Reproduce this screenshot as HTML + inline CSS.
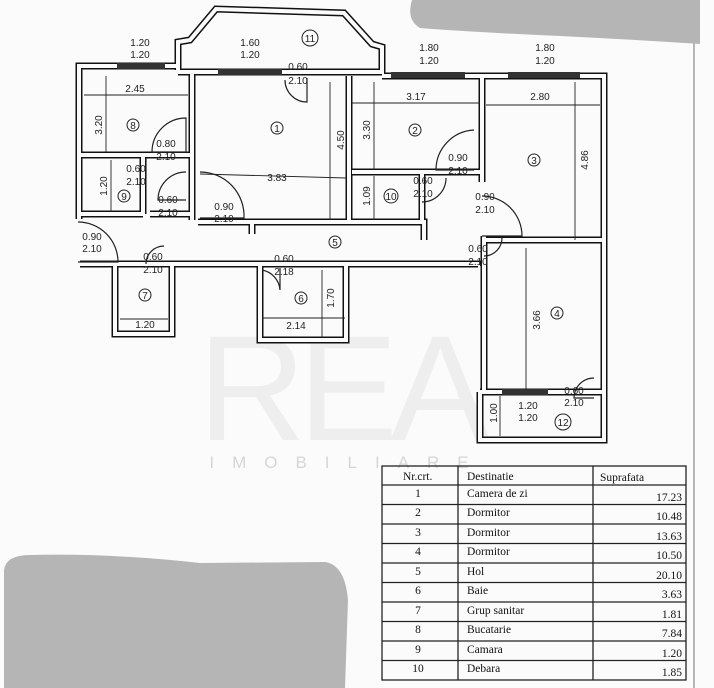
<!DOCTYPE html>
<html><head><meta charset="utf-8"><style>
html,body{margin:0;padding:0;background:#fbfbfb;}
svg{display:block;}
.t{font-family:"Liberation Sans",sans-serif;font-size:10px;fill:#222;text-anchor:middle;}
.s{font-family:"Liberation Serif",serif;font-size:11.5px;fill:#111;}
</style></head><body>
<svg width="714" height="688" viewBox="0 0 714 688" xmlns="http://www.w3.org/2000/svg">
<rect width="714" height="688" fill="#fbfbfb"/>
<!-- watermark -->
<text x="340" y="440" font-family="Liberation Sans,sans-serif" font-size="150" fill="#eeeeee" text-anchor="middle" letter-spacing="-8">REA</text>
<text x="348" y="468" font-family="Liberation Sans,sans-serif" font-size="17" fill="#d6d6d6" text-anchor="middle" letter-spacing="18">IMOBILIARE</text>
<line x1="694" y1="0" x2="694" y2="688" stroke="#888" stroke-width="1.2"/>
<!-- blobs -->
<path d="M412,0 H700 V44 Q640,40 560,36 Q470,32 420,28 Q406,20 412,0Z" fill="#b5b5b5"/>
<path d="M4,570 Q6,555 30,555 Q110,553 200,563 L325,562 Q345,565 348,600 L345,688 H4Z" fill="#b5b5b5"/>

<defs>
<path id="w" d="M79,219 V66 H178 M178,70 V42 L190,40 L216,9 L344,13 L372,44 L382,47 V74 M178,72 H382 M382,76 H604 V392 M192,74 V220 M80,155 H192 M143,155 V214 M80,214 H143 M150,214 H192 M198,222 H252 V234 M252,222 H424 V240 M349,76 V222 M352,172 H482 M422,172 V222 M482,76 V182 M484,240 H604 M484,236 V392 M80,264 H478 V266 M115,266 V334 H172 V266 M260,266 V340 H346 V266 M480,392 H604 M480,392 V440 H604 V392"/>
</defs>
<use href="#w" fill="none" stroke="#111" stroke-width="7"/>
<use href="#w" fill="none" stroke="#fbfbfb" stroke-width="4"/>
<!-- windows -->
<g fill="#333">
<rect x="117" y="63" width="48" height="6"/>
<rect x="218" y="69" width="64" height="6"/>
<rect x="391" y="72" width="74" height="6"/>
<rect x="508" y="72" width="72" height="6"/>
<rect x="502" y="389" width="46" height="6"/>
</g>
<!-- door arcs -->
<g fill="none" stroke="#222" stroke-width="1.2">
<path d="M307,78 V102 A22,22 0 0 1 285,80"/>
<path d="M186,118 A34,34 0 0 0 152,152 H186Z"/>
<path d="M186,172 A28,28 0 0 0 158,200 H186"/>
<path d="M146,158 V178"/>
<path d="M200,172 A44,44 0 0 1 244,218 H200"/>
<path d="M474,130 A40,40 0 0 0 436,170 H474"/>
<path d="M422,202 A24,24 0 0 0 446,178"/>
<path d="M482,196 A40,40 0 0 1 522,236 H482"/>
<path d="M484,256 A18,18 0 0 0 502,238"/>
<path d="M78,222 A40,40 0 0 1 118,262 H78"/>
<path d="M164,246 A18,18 0 0 0 146,264"/>
<path d="M280,268 V290 A22,22 0 0 0 262,270"/>
<path d="M594,378 A20,20 0 0 0 574,398 H594"/>
</g>
<!-- dimension lines -->
<g stroke="#222" stroke-width="0.9" fill="none">
<line x1="84" y1="95" x2="188" y2="95"/>
<line x1="106" y1="76" x2="106" y2="152"/>
<line x1="111" y1="160" x2="111" y2="212"/>
<line x1="330" y1="82" x2="330" y2="220"/>
<line x1="200" y1="174" x2="346" y2="178"/>
<line x1="352" y1="103" x2="480" y2="103"/>
<line x1="374" y1="82" x2="374" y2="170"/>
<line x1="374" y1="176" x2="374" y2="220"/>
<line x1="486" y1="105" x2="600" y2="105"/>
<line x1="575" y1="82" x2="575" y2="240"/>
<line x1="120" y1="319" x2="168" y2="319"/>
<line x1="262" y1="318" x2="345" y2="318"/>
<line x1="322" y1="270" x2="322" y2="338"/>
<line x1="526" y1="248" x2="526" y2="390"/>
<line x1="500" y1="396" x2="500" y2="436"/>
</g>
<!-- fraction labels -->
<g class="t">
<text x="140" y="46">1.20</text><text x="140" y="58">1.20</text>
<text x="250" y="46">1.60</text><text x="250" y="58">1.20</text>
<text x="429" y="51">1.80</text><text x="429" y="64">1.20</text>
<text x="545" y="51">1.80</text><text x="545" y="64">1.20</text>
<text x="298" y="70">0.60</text><text x="298" y="84">2.10</text>
<text x="166" y="147">0.80</text><text x="166" y="160">2.10</text>
<text x="136" y="172">0.60</text><text x="136" y="185">2.10</text>
<text x="168" y="203">0.60</text><text x="168" y="216">2.10</text>
<text x="224" y="210">0.90</text><text x="224" y="222">2.10</text>
<text x="92" y="240">0.90</text><text x="92" y="252">2.10</text>
<text x="153" y="260">0.60</text><text x="153" y="273">2.10</text>
<text x="458" y="161">0.90</text><text x="458" y="174">2.10</text>
<text x="423" y="184">0.60</text><text x="423" y="197">2.10</text>
<text x="485" y="200">0.90</text><text x="485" y="213">2.10</text>
<text x="478" y="252">0.60</text><text x="478" y="265">2.10</text>
<text x="284" y="262">0.60</text><text x="284" y="275">2.18</text>
<text x="574" y="394">0.60</text><text x="574" y="406">2.10</text>
<text x="528" y="409">1.20</text><text x="528" y="421">1.20</text>
<text x="135" y="92">2.45</text>
<text x="277" y="181">3.83</text>
<text x="416" y="100">3.17</text>
<text x="540" y="100">2.80</text>
<text x="145" y="328">1.20</text>
<text x="296" y="329">2.14</text>
<text transform="translate(102,125) rotate(-90)">3.20</text>
<text transform="translate(107,186) rotate(-90)">1.20</text>
<text transform="translate(344,140) rotate(-90)">4.50</text>
<text transform="translate(370,130) rotate(-90)">3.30</text>
<text transform="translate(370,196) rotate(-90)">1.09</text>
<text transform="translate(588,160) rotate(-90)">4.86</text>
<text transform="translate(334,298) rotate(-90)">1.70</text>
<text transform="translate(540,320) rotate(-90)">3.66</text>
<text transform="translate(497,413) rotate(-90)">1.00</text>
</g>
<!-- room numbers -->
<g fill="none" stroke="#222" stroke-width="1">
<circle cx="310" cy="38" r="8"/><circle cx="133" cy="125" r="6"/><circle cx="124" cy="196" r="6"/>
<circle cx="277" cy="128" r="6"/><circle cx="415" cy="130" r="6"/><circle cx="391" cy="196" r="7"/>
<circle cx="534" cy="160" r="6"/><circle cx="335" cy="242" r="6"/><circle cx="301" cy="298" r="6"/>
<circle cx="145" cy="295" r="6"/><circle cx="557" cy="313" r="6"/><circle cx="563" cy="422" r="8"/>
</g>
<g class="t" font-size="9">
<text x="310" y="42">11</text><text x="133" y="129">8</text><text x="124" y="200">9</text>
<text x="277" y="132">1</text><text x="415" y="134">2</text><text x="391" y="200">10</text>
<text x="534" y="164">3</text><text x="335" y="246">5</text><text x="301" y="302">6</text>
<text x="145" y="299">7</text><text x="557" y="317">4</text><text x="563" y="426">12</text>
</g>
<!-- table -->
<g stroke="#222" stroke-width="1.3" fill="none">
<rect x="382" y="466" width="304" height="214"/>
<line x1="458" y1="466" x2="458" y2="680"/>
<line x1="593" y1="466" x2="593" y2="680"/>
<line x1="382" y1="485" x2="686" y2="485"/>
<line x1="382" y1="504.5" x2="686" y2="504.5"/>
<line x1="382" y1="524" x2="686" y2="524"/>
<line x1="382" y1="543.5" x2="686" y2="543.5"/>
<line x1="382" y1="563" x2="686" y2="563"/>
<line x1="382" y1="582.5" x2="686" y2="582.5"/>
<line x1="382" y1="602" x2="686" y2="602"/>
<line x1="382" y1="621.5" x2="686" y2="621.5"/>
<line x1="382" y1="641" x2="686" y2="641"/>
<line x1="382" y1="660.5" x2="686" y2="660.5"/>
</g>
<g class="s">
<text x="403" y="480">Nr.crt.</text><text x="467" y="480">Destinatie</text><text x="600" y="481">Suprafata</text>
<g text-anchor="middle">
<text x="418" y="497">1</text><text x="418" y="516">2</text><text x="418" y="536">3</text><text x="418" y="555">4</text><text x="418" y="575">5</text><text x="418" y="594">6</text><text x="418" y="614">7</text><text x="418" y="633">8</text><text x="418" y="653">9</text><text x="418" y="672">10</text>
</g>
<text x="467" y="497">Camera de zi</text><text x="467" y="516">Dormitor</text><text x="467" y="536">Dormitor</text><text x="467" y="555">Dormitor</text><text x="467" y="575">Hol</text><text x="467" y="594">Baie</text><text x="467" y="614">Grup sanitar</text><text x="467" y="633">Bucatarie</text><text x="467" y="653">Camara</text><text x="467" y="672">Debara</text>
<g text-anchor="end">
<text x="682" y="501">17.23</text><text x="682" y="520">10.48</text><text x="682" y="540">13.63</text><text x="682" y="559">10.50</text><text x="682" y="579">20.10</text><text x="682" y="598">3.63</text><text x="682" y="618">1.81</text><text x="682" y="637">7.84</text><text x="682" y="657">1.20</text><text x="682" y="676">1.85</text>
</g>
</g>
</svg>
</body></html>
